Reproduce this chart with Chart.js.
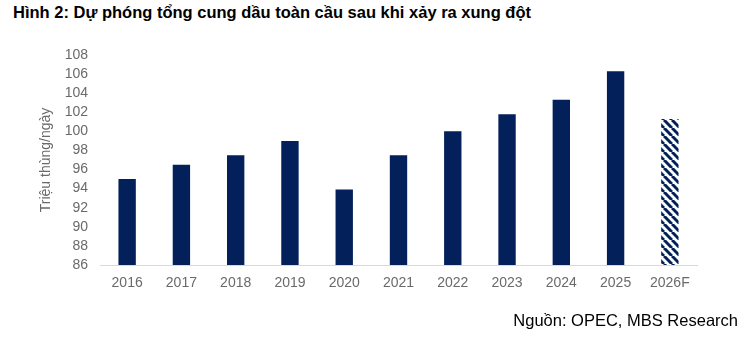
<!DOCTYPE html>
<html>
<head>
<meta charset="utf-8">
<script src="https://cdn.jsdelivr.net/npm/chart.js@4"></script>
<style>
  body { margin: 0; background: #fff; font-family: "Liberation Sans", Arial, sans-serif; }
  .wrap { position: relative; width: 742px; height: 337px; overflow: hidden; }
  .title { position: absolute; left: 13px; top: 3px; font-size: 16.5px; font-weight: bold; color: #000; white-space: nowrap; }
  .source { position: absolute; right: 4px; top: 311px; font-size: 16.5px; color: #000; white-space: nowrap; }
  #chart { position: absolute; left: 0; top: 0; }
</style>
</head>
<body>
<div class="wrap">
  <div class="title">Hình 2: Dự phóng tổng cung dầu toàn cầu sau khi xảy ra xung đột</div>
  <canvas id="chart" width="742" height="337"></canvas>
  <div class="source">Nguồn: OPEC, MBS Research</div>
</div>
<script>
// data
const years = ['2016', '2017', '2018', '2019', '2020', '2021', '2022', '2023', '2024', '2025', '2026F'];
const supply = [95.0, 96.5, 97.5, 99.0, 93.9, 97.5, 100.0, 101.8, 103.3, 106.3, 101.3];
const yMin = 86, yMax = 108, yStep = 2;

const navy = '#03205a';
const gray = '#6a6a6a';

// striped fill for the forecast bar
function makeStripes() {
    const s = 8;
    const c = document.createElement('canvas');
    c.width = s; c.height = s;
    const g = c.getContext('2d');
    g.fillStyle = '#fff';
    g.fillRect(0, 0, s, s);
    g.strokeStyle = navy;
    g.lineWidth = 3;
    [-s, 0, s].forEach(off => {
        g.beginPath();
        g.moveTo(off, 0);
        g.lineTo(off + s, s);
        g.stroke();
    });
    return g.createPattern(c, 'repeat');
}
const stripes = makeStripes();

const colors = years.map(y => y.endsWith('F') ? stripes : navy);

const ctx = document.getElementById('chart');
new Chart(ctx, {
    type: 'bar',
    data: {
        labels: years,
        datasets: [{
            data: supply,
            backgroundColor: colors,
            borderWidth: 0,
            barPercentage: 0.32,
            categoryPercentage: 1
        }]
    },
    options: {
        responsive: false,
        animation: false,
        devicePixelRatio: 1,
        layout: { padding: { left: 36, right: 45, top: 55, bottom: 42 } },
        plugins: { legend: { display: false }, tooltip: { enabled: false } },
        scales: {
            x: {
                grid: { display: false, drawTicks: false },
                border: { display: true, color: '#d9d9d9', width: 1 },
                ticks: { color: gray, font: { family: 'Liberation Sans', size: 14 }, padding: 10, maxRotation: 0, autoSkip: false },
                afterFit: s => { s.height = 30; }
            },
            y: {
                min: yMin,
                max: yMax,
                grid: { display: false, drawTicks: false },
                border: { display: false },
                ticks: { stepSize: yStep, color: gray, font: { family: 'Liberation Sans', size: 14 }, padding: 12, autoSkip: false },
                title: { display: true, text: 'Triệu thùng/ngày', color: gray, font: { family: 'Liberation Sans', size: 14 }, padding: 2 },
                afterFit: s => { s.width = 64; }
            }
        }
    }
});
</script>
</body>
</html>
